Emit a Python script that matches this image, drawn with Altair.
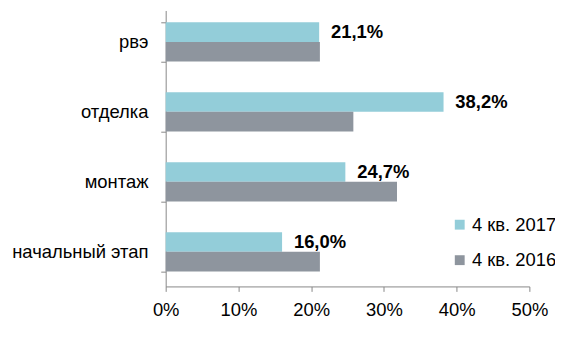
import altair as alt
import pandas as pd

categories = ["рвэ", "отделка", "монтаж", "начальный этап"]
series = ["4 кв. 2017", "4 кв. 2016"]
values_2017 = [21.1, 38.2, 24.7, 16.0]
values_2016 = [21.2, 25.8, 31.8, 21.2]
colors = ["#93CDD9", "#8E959E"]
x_ticks = [0, 0.1, 0.2, 0.3, 0.4, 0.5]

rows = []
for c, a, b in zip(categories, values_2017, values_2016):
    rows.append({"cat": c, "series": series[0], "value": a / 100,
                 "label": f"{a:.1f}".replace(".", ",") + "%"})
    rows.append({"cat": c, "series": series[1], "value": b / 100, "label": ""})
df = pd.DataFrame(rows)

FONT = "Liberation Sans"
FS = 18.67

y_enc = alt.Y(
    "cat:N", sort=categories,
    scale=alt.Scale(paddingInner=0.437, paddingOuter=0.19, align=0.44),
    axis=alt.Axis(title=None, tickBand="extent", labelFontSize=FS, labelColor="#000000",
                  labelPadding=13, tickSize=5, domainColor="#868686", tickColor="#868686",
                  labelFont=FONT),
)
yoff = alt.YOffset("series:N", sort=series, scale=alt.Scale(domain=series, paddingInner=0, paddingOuter=0))
x_enc = alt.X(
    "value:Q", scale=alt.Scale(domain=[0, 0.5]),
    axis=alt.Axis(title=None, format=".0%", values=x_ticks, grid=False, labelFontSize=FS,
                  labelColor="#000000", labelPadding=9, tickSize=5, domainColor="#868686",
                  tickColor="#868686", labelFont=FONT, labelFlush=False),
)

bars = alt.Chart(df).mark_bar().encode(
    x=x_enc, y=y_enc, yOffset=yoff,
    color=alt.Color("series:N", sort=series, scale=alt.Scale(domain=series, range=colors),
                    legend=alt.Legend(title=None, orient="none", legendX=289, legendY=208,
                                      symbolType="square", symbolSize=100, symbolStrokeWidth=0,
                                      labelFontSize=FS, labelFont=FONT, labelColor="#000000",
                                      rowPadding=16, labelOffset=3)),
)

labels = alt.Chart(df).mark_text(align="left", baseline="middle", dx=12, fontSize=FS,
                                 fontWeight="bold", font=FONT, color="#000000").encode(
    x="value:Q", y=alt.Y("cat:N", sort=categories), yOffset=alt.YOffset("series:N", sort=series),
    text="label:N",
)

chart = alt.layer(bars, labels).properties(
    width=369, height=280,
    autosize=alt.AutoSizeParams(type="none"),
    padding={"left": 160, "top": 0, "right": 26, "bottom": 64},
).configure_view(stroke=None)

chart.save("out.html", embed_options={"renderer": "svg", "actions": False})
